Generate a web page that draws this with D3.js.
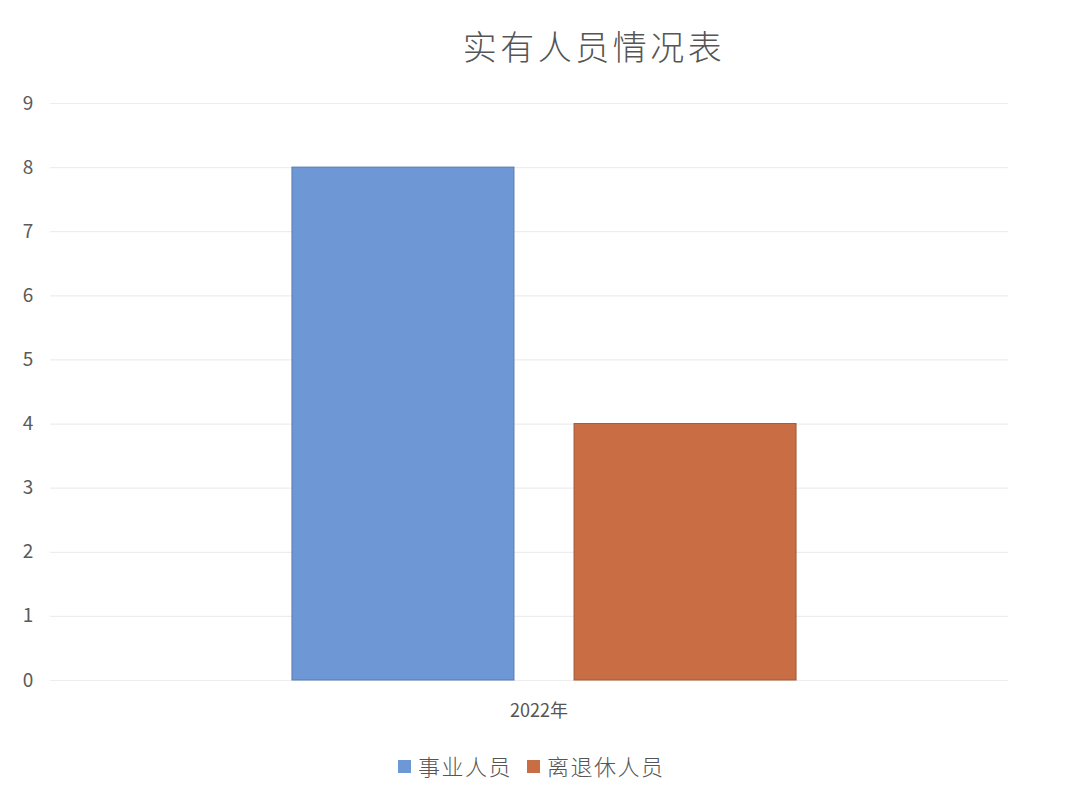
<!DOCTYPE html>
<html>
<head>
<meta charset="utf-8">
<script src="https://cdn.jsdelivr.net/npm/d3@7"></script>
<style>
  html, body { margin: 0; padding: 0; background: #fff; }
  svg { display: block; }
</style>
</head>
<body>
<svg id="chart" width="1070" height="807"></svg>
<script>
// Headcount by personnel type, year 2022
const categories = ["2022年"];
const seriesNames = ["事业人员", "离退休人员"];
const seriesValues = [8, 4];
const seriesColors = ["#6e97d6", "#c96d44"];
const yTicks = [0, 1, 2, 3, 4, 5, 6, 7, 8, 9];
const title = "实有人员情况表";

const W = 1070, H = 807;
const margin = { left: 50, right: 32, top: 103, bottom: 127 };
const svg = d3.select("#chart");
const font = "'Noto Sans CJK SC', 'Noto Sans', sans-serif";

svg.append("rect").attr("width", W).attr("height", H).attr("fill", "#fff");

const y = d3.scaleLinear().domain([0, 9]).range([H - margin.bottom, margin.top]);
const x0 = d3.scaleBand().domain(categories).range([margin.left, W - margin.right]).paddingInner(0).paddingOuter(0.48);
const x1 = d3.scaleBand().domain(seriesNames).range([0, x0.bandwidth()]).paddingInner(0.213).paddingOuter(0);

// gridlines
const yAxis = d3.axisLeft(y).tickValues(yTicks).tickSize(-(W - margin.left - margin.right - 30)).tickPadding(14);
const gy = svg.append("g").attr("transform", `translate(${margin.left},0)`).call(yAxis);
gy.select(".domain").remove();
gy.selectAll(".tick line").attr("stroke", "#ededed").attr("stroke-width", 1.2);
gy.selectAll(".tick text")
  .attr("fill", "#5a5a5a").attr("font-family", font).attr("font-size", 19)
  .attr("text-anchor", "middle").attr("dx", -8);

// bars
const g = svg.append("g");
categories.forEach(cat => {
  seriesNames.forEach((s, i) => {
    g.append("rect")
      .attr("x", x0(cat) + x1(s))
      .attr("y", y(seriesValues[i]))
      .attr("width", x1.bandwidth())
      .attr("height", y(0) - y(seriesValues[i]))
      .attr("fill", seriesColors[i])
      .attr("stroke", d3.color(seriesColors[i]).darker(0.6))
      .attr("stroke-width", 1);
  });
});

// category axis label
const xAxis = d3.axisBottom(x0).tickSize(0).tickPadding(24);
const gx = svg.append("g").attr("transform", `translate(0,${y(0)})`).call(xAxis);
gx.select(".domain").remove();
gx.selectAll(".tick text").attr("fill", "#555").attr("font-family", font).attr("font-size", 18).attr("dx", -5);

// title
svg.append("text")
  .attr("x", 594).attr("y", 60)
  .attr("text-anchor", "middle")
  .attr("font-family", font).attr("font-size", 34).attr("font-weight", 300)
  .attr("fill", "#555").attr("letter-spacing", 3.5)
  .text(title);

// legend
const legendX = [398, 527];
const lg = svg.append("g");
seriesNames.forEach((s, i) => {
  lg.append("rect").attr("x", legendX[i]).attr("y", 760).attr("width", 13).attr("height", 13).attr("fill", seriesColors[i]);
  lg.append("text").attr("x", legendX[i] + 20).attr("y", 775)
    .attr("font-family", font).attr("font-size", 22).attr("font-weight", 300)
    .attr("fill", "#555").attr("letter-spacing", 1.5).text(s);
});
</script>
</body>
</html>
